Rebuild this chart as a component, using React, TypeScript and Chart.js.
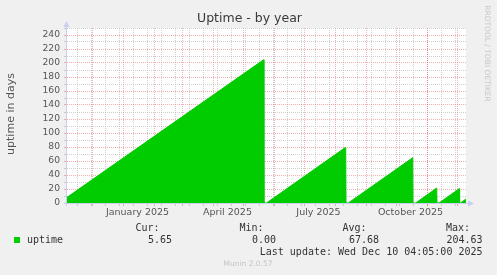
import React, { useEffect, useRef } from "react";
import { Chart, registerables } from "chart.js";

Chart.register(...registerables);

// ---- Data (x = days since 2024-11-05, y = uptime in days) ----
const sampleDays = [0, 197.6, 197.9, 200.5, 279.7, 280.0, 282.3, 346.7, 347.0, 349.7, 370.7, 371.0, 373.0, 393.3, 393.6, 394.4, 400];
const uptimeValues = [7.0, 204.63, 0, 0, 79.6, 0, 0, 64.7, 0, 0, 21.4, 0, 0, 20.5, 0, 0, 5.65];

const monthLabels = ["January 2025", "April 2025", "July 2025", "October 2025"];
const monthLabelDates: [number, number, number][] = [[2025, 0, 15], [2025, 3, 15], [2025, 6, 15], [2025, 9, 15]];
const majorGridDates: [number, number, number][] = [
  [2024, 11, 1], [2025, 0, 1], [2025, 1, 1], [2025, 2, 1], [2025, 3, 1], [2025, 4, 1], [2025, 5, 1],
  [2025, 6, 1], [2025, 7, 1], [2025, 8, 1], [2025, 9, 1], [2025, 10, 1], [2025, 11, 1],
];
const minorGridFirstDay = 11;
const minorGridStep = 14;

const yTickStep = 10;
const yMax = 250;

const seriesName = "uptime";
const statLabels = ["Cur:", "Min:", "Avg:", "Max:"];
const statValues = ["5.65", "0.00", "67.68", "204.63"];
const lastUpdate = "Last update: Wed Dec 10 04:05:00 2025";
const title = "Uptime - by year";
const yTitle = "uptime in days";
const watermark = "RRDTOOL / TOBI OETIKER";
const footer = "Munin 2.0.57";

const START = Date.UTC(2024, 10, 5);
const dayOf = (d: [number, number, number]) => (Date.UTC(d[0], d[1], d[2]) - START) / 864e5;

const GREEN = "#00cc00";
const MAJOR = "rgba(230,80,80,0.45)";
const MINOR = "rgba(170,170,170,0.55)";
const AXIS = "#c8cff2";

export default function App() {
  const ref = useRef<HTMLCanvasElement | null>(null);

  useEffect(() => {
    const canvas = ref.current!;
    const majorDays = majorGridDates.map(dayOf);
    const labelDays = monthLabelDates.map((d) => dayOf(d) + 0.5);
    const minorDays: number[] = [];
    for (let v = minorGridFirstDay; v < 400; v += minorGridStep) minorDays.push(v);
    const kind = new Map<number, string>();
    minorDays.forEach((v) => kind.set(v, "minor"));
    majorDays.forEach((v) => kind.set(v, "major"));
    const labelMap = new Map<number, string>();
    labelDays.forEach((v, i) => {
      kind.set(v, "label");
      labelMap.set(v, monthLabels[i]);
    });

    const xColor = (ctx: any) => {
      const k = kind.get(ctx.tick?.value);
      return k === "major" ? MAJOR : k === "minor" ? MINOR : "rgba(0,0,0,0)";
    };
    const yColor = (ctx: any) => {
      const v = ctx.tick?.value;
      if (v === 0) return "rgba(0,0,0,0)";
      return v % 20 === 0 ? MAJOR : MINOR;
    };

    const decor = {
      id: "decor",
      beforeDraw(chart: any) {
        const { ctx, chartArea: a } = chart;
        ctx.save();
        ctx.fillStyle = "#f0f0f0";
        ctx.fillRect(0, 0, chart.width, chart.height);
        ctx.fillStyle = "#ffffff";
        ctx.fillRect(a.left, a.top, a.right - a.left, a.bottom - a.top);
        ctx.restore();
      },
      afterDraw(chart: any) {
        const { ctx, chartArea: a } = chart;
        ctx.save();
        // axis extensions + arrows
        ctx.strokeStyle = AXIS;
        ctx.fillStyle = AXIS;
        ctx.lineWidth = 1;
        ctx.beginPath();
        ctx.moveTo(a.left + 0.5, a.bottom + 3);
        ctx.lineTo(a.left + 0.5, a.top - 4);
        ctx.moveTo(a.left - 2, a.bottom + 0.5);
        ctx.lineTo(a.right + 4, a.bottom + 0.5);
        ctx.stroke();
        ctx.beginPath();
        ctx.moveTo(a.left + 0.5, a.top - 7);
        ctx.lineTo(a.left - 2.5, a.top - 1);
        ctx.lineTo(a.left + 3.5, a.top - 1);
        ctx.closePath();
        ctx.fill();
        ctx.beginPath();
        ctx.moveTo(a.right + 8, a.bottom + 0.5);
        ctx.lineTo(a.right + 2, a.bottom - 2.5);
        ctx.lineTo(a.right + 2, a.bottom + 3.5);
        ctx.closePath();
        ctx.fill();

        // title
        ctx.fillStyle = "#3a3a3a";
        ctx.font = "12.5px 'DejaVu Sans'";
        ctx.textAlign = "center";
        ctx.textBaseline = "middle";
        ctx.fillText(title, 249.5, 19);

        // y title
        ctx.save();
        ctx.translate(11, 114);
        ctx.rotate(-Math.PI / 2);
        ctx.fillStyle = "#555555";
        ctx.font = "11px 'DejaVu Sans'";
        ctx.fillText(yTitle, 0, 0);
        ctx.restore();

        // watermark
        ctx.save();
        ctx.translate(487, 53.5);
        ctx.rotate(Math.PI / 2);
        ctx.fillStyle = "#c8c8c8";
        ctx.font = "7.5px 'DejaVu Sans'";
        ctx.fillText(watermark, 0, 0);
        ctx.restore();

        // legend
        ctx.fillStyle = GREEN;
        ctx.fillRect(14, 237, 6, 6);
        ctx.fillStyle = "#333333";
        ctx.font = "10px 'DejaVu Sans Mono'";
        ctx.textAlign = "left";
        ctx.fillText(seriesName, 27, 240);
        ctx.textAlign = "right";
        const labelRight = [159.5, 263.5, 366.5, 470];
        const valueRight = [172, 276, 379, 482.5];
        statLabels.forEach((s, i) => ctx.fillText(s, labelRight[i], 228));
        statValues.forEach((s, i) => ctx.fillText(s, valueRight[i], 240));
        ctx.fillText(lastUpdate, 482.5, 252);

        ctx.textAlign = "center";
        ctx.fillStyle = "#c4c4c4";
        ctx.font = "7.5px 'DejaVu Sans'";
        ctx.fillText(footer, 248, 264);
        ctx.restore();
      },
    };

    const chart = new Chart(canvas, {
      type: "line",
      data: {
        datasets: [
          {
            label: seriesName,
            data: sampleDays.map((d, i) => ({ x: d, y: uptimeValues[i] })),
            borderColor: GREEN,
            backgroundColor: GREEN,
            borderWidth: 1,
            fill: "origin",
            pointRadius: 0,
            tension: 0,
          },
        ],
      },
      options: {
        animation: false,
        responsive: false,
        devicePixelRatio: 1,
        layout: { padding: { left: 0, right: 31, top: 28, bottom: 0 } },
        plugins: { legend: { display: false }, title: { display: false }, tooltip: { enabled: false } },
        scales: {
          x: {
            type: "linear",
            min: 0,
            max: 400,
            z: 1,
            afterBuildTicks: (scale: any) => {
              const vals = [...minorDays, ...majorDays, ...labelDays].sort((p, q) => p - q);
              scale.ticks = vals.map((v) => ({ value: v }));
            },
            afterFit: (scale: any) => {
              scale.height = 72;
            },
            ticks: {
              autoSkip: false,
              maxRotation: 0,
              minRotation: 0,
              padding: 1,
              color: "#555555",
              font: { family: "DejaVu Sans", size: 9.5 },
              callback: (v: any) => labelMap.get(v) ?? "",
            },
            grid: {
              color: xColor,
              tickColor: xColor,
              tickLength: 3,
              lineWidth: 1,
            },
            border: { display: true, color: AXIS, dash: [1, 1] },
          },
          y: {
            type: "linear",
            min: 0,
            max: yMax,
            z: 1,
            afterFit: (scale: any) => {
              scale.width = 66;
            },
            ticks: {
              stepSize: yTickStep,
              autoSkip: false,
              padding: 4,
              color: "#555555",
              font: { family: "DejaVu Sans", size: 9.2 },
              callback: (v: any) => (v % 20 === 0 ? String(v) : ""),
            },
            grid: {
              color: yColor,
              tickColor: yColor,
              tickLength: 2,
              lineWidth: 1,
            },
            border: { display: true, color: AXIS, dash: [1, 1] },
          },
        },
      },
      plugins: [decor],
    });
    return () => chart.destroy();
  }, []);

  return (
    <div style={{ position: "absolute", left: 0, top: 0, width: 497, height: 275 }}>
      <canvas ref={ref} width={497} height={275} style={{ display: "block", width: 497, height: 275 }} />
    </div>
  );
}
